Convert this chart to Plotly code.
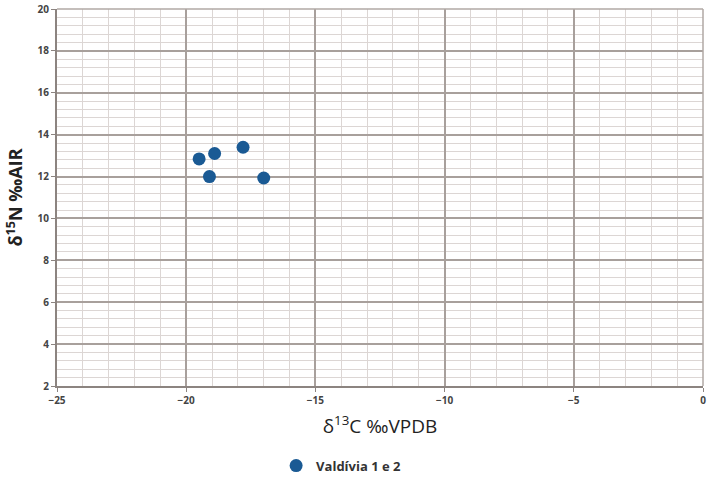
import plotly.graph_objects as go

x_c13 = [-19.5, -19.1, -18.9, -17.8, -17.0]
y_n15 = [12.84, 12.0, 13.1, 13.4, 11.93]
series_name = "Valdívia 1 e 2"

fig = go.Figure()
fig.add_trace(go.Scatter(
    x=x_c13, y=y_n15, mode="markers", name=series_name,
    marker=dict(color="#1a5a94", size=13, line=dict(width=0)),
))

fig.update_layout(
    width=708, height=480,
    margin=dict(l=57, r=5, t=9, b=94, autoexpand=False),
    paper_bgcolor="white", plot_bgcolor="white",
    font=dict(family="Open Sans, sans-serif", color="#333333"),
    showlegend=True,
    legend=dict(orientation="h", x=0.39, y=0.03, xanchor="left", yanchor="middle",
                xref="container", yref="container",
                font=dict(size=13, color="#333333", family="Open Sans, sans-serif", weight="bold"),
                itemwidth=30, tracegroupgap=0),
)
fig.update_xaxes(
    range=[-25, 0], dtick=5, tick0=0, showgrid=True, gridcolor="#a8a09c", gridwidth=1.5,
    minor=dict(dtick=1, showgrid=True, gridcolor="#dcd6d4", gridwidth=1),
    zeroline=False, showline=True, linecolor="#8c8480", linewidth=2, mirror=False,
    ticks="outside", ticklen=4, tickcolor="#8c8480",
    tickfont=dict(size=10, color="#444444", weight="bold"),
    title=dict(text="δ<sup>13</sup>C ‰VPDB", font=dict(size=19, color="#222222"), standoff=14),
)
fig.update_yaxes(
    range=[2, 20], dtick=2, tick0=0, showgrid=True, gridcolor="#a8a09c", gridwidth=1.5,
    minor=dict(dtick=0.4, tick0=2, showgrid=True, gridcolor="#dcd6d4", gridwidth=1),
    zeroline=False, showline=True, linecolor="#8c8480", linewidth=2,
    ticks="outside", ticklen=4, tickcolor="#8c8480",
    tickfont=dict(size=10, color="#444444", weight="bold"),
    title=dict(text="<b>δ<sup>15</sup>N ‰AIR</b>", font=dict(size=18, color="#222222"), standoff=10),
)
fig.add_shape(type="line", xref="paper", yref="paper", x0=1, x1=1, y0=0, y1=1,
              line=dict(color="#b0a8a4", width=1.5))
fig.add_shape(type="line", xref="paper", yref="paper", x0=0, x1=1, y0=1, y1=1,
              line=dict(color="#b0a8a4", width=1.5))

fig.write_html("out.html")
